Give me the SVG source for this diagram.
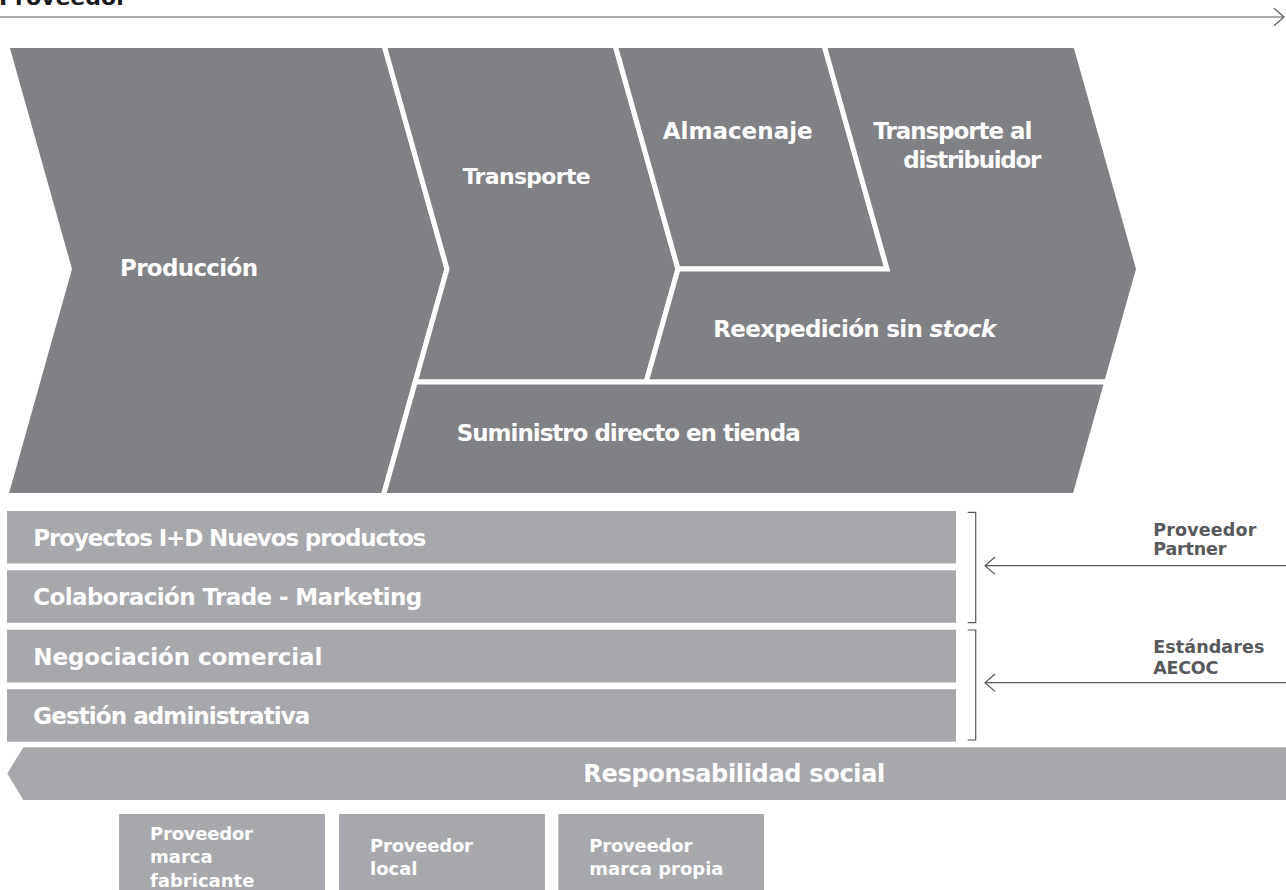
<svg xmlns="http://www.w3.org/2000/svg" width="1286" height="890" viewBox="0 0 1286 890">
<defs>
<style>
.chev{fill:#808185;stroke:#ffffff;stroke-width:5;stroke-linejoin:miter}
.band{fill:#a7a8ab}
.lbl{font-family:"DejaVu Sans","Liberation Sans",sans-serif;font-weight:bold;fill:#ffffff;font-size:23px}
.side{font-family:"DejaVu Sans","Liberation Sans",sans-serif;font-weight:bold;fill:#58595b;font-size:17.5px}
.box{font-family:"DejaVu Sans","Liberation Sans",sans-serif;font-weight:bold;fill:#ffffff;font-size:18px}
.conn{fill:none;stroke:#58595b;stroke-width:1.2}
</style>
<marker id="open" markerUnits="userSpaceOnUse" viewBox="0 0 12 20" refX="11" refY="10" markerWidth="12" markerHeight="20" orient="auto">
<path d="M1,1.3 L11,10 L1,18.7" fill="none" stroke="#58595b" stroke-width="1.2"/>
</marker>
</defs>
<rect width="1286" height="890" fill="#ffffff"/>

<g id="title">
<text x="-1" y="4.5" font-family="DejaVu Sans, Liberation Sans, sans-serif" font-weight="bold" font-size="22" fill="#1a1a1a" textLength="128">Proveedor</text>
</g>

<g id="produccion">
<polygon class="chev" points="6.6,45.5 384.2,45.5 447,269 383.4,495.5 5.8,495.5 69.4,269"/>
<text class="lbl" x="120" y="275.5" textLength="138">Producción</text>
</g>
<g id="transporte">
<polygon class="chev" points="384.2,45.5 615.2,45.5 678,269 646.2,382 415.2,382 447,269"/>
<text class="lbl" x="462.7" y="184" style="font-size:22px" textLength="128">Transporte</text>
</g>
<g id="almacenaje">
<polygon class="chev" points="615.2,45.5 824.2,45.5 887,269 678,269"/>
<text class="lbl" x="662.7" y="139" textLength="150">Almacenaje</text>
</g>
<g id="transporte-distribuidor">
<polygon class="chev" points="678,269 887,269 824.2,45.5 1075.8,45.5 1138.6,269 1106.8,382 646.2,382"/>
<text class="lbl" x="873.3" y="139" textLength="159">Transporte al</text>
<text class="lbl" x="903.3" y="168" textLength="138">distribuidor</text>
</g>
<g id="reexpedicion">
<text class="lbl" x="713.3" y="336.7" textLength="283">Reexpedición sin <tspan font-style="italic">stock</tspan></text>
</g>
<g id="suministro">
<polygon class="chev" points="415.2,382 1106.8,382 1075,495.5 383.4,495.5"/>
<text class="lbl" x="456.7" y="440.7" textLength="344">Suministro directo en tienda</text>
</g>

<g id="proyectos">
<rect class="band" x="7" y="511" width="949" height="52.5"/>
<text class="lbl" x="33.3" y="545.5" textLength="393">Proyectos I+D Nuevos productos</text>
</g>
<g id="colaboracion">
<rect class="band" x="7" y="570.3" width="949" height="52.5"/>
<text class="lbl" x="33.3" y="604.8" textLength="389">Colaboración Trade - Marketing</text>
</g>
<g id="negociacion">
<rect class="band" x="7" y="629.7" width="949" height="52.8"/>
<text class="lbl" x="33.3" y="664.5" textLength="289">Negociación comercial</text>
</g>
<g id="gestion">
<rect class="band" x="7" y="689.2" width="949" height="52.5"/>
<text class="lbl" x="33.3" y="723.8" textLength="277">Gestión administrativa</text>
</g>

<g id="responsabilidad">
<polygon class="band" points="23.3,747.3 1286,747.3 1286,800 23.3,800 7.3,773.6"/>
<text class="lbl" x="583.3" y="782" style="font-size:24px" textLength="302">Responsabilidad social</text>
</g>

<g id="proveedor-partner">
<text class="side" x="1153.3" y="535.7" textLength="103">Proveedor</text>
<text class="side" x="1153.3" y="555" textLength="73">Partner</text>
</g>
<g id="estandares-aecoc">
<text class="side" x="1153.3" y="653.3" textLength="111">Estándares</text>
<text class="side" x="1153.3" y="673.5" textLength="65">AECOC</text>
</g>

<g id="proveedor-fabricante">
<rect class="band" x="119" y="814" width="206" height="80"/>
<text class="box" x="150" y="839.5" textLength="103">Proveedor</text>
<text class="box" x="150" y="863">marca</text>
<text class="box" x="150" y="886.5">fabricante</text>
</g>
<g id="proveedor-local">
<rect class="band" x="339" y="814" width="206" height="80"/>
<text class="box" x="370" y="851.7" textLength="103">Proveedor</text>
<text class="box" x="370" y="875.2">local</text>
</g>
<g id="proveedor-propia">
<rect class="band" x="558.3" y="814" width="205.7" height="80"/>
<text class="box" x="589.3" y="851.7" textLength="103">Proveedor</text>
<text class="box" x="589.3" y="875.2">marca propia</text>
</g>

<g id="connectors">
<line class="conn" x1="0" y1="17" x2="1284" y2="17" marker-end="url(#open)"/>
<path class="conn" d="M967.7,512.3 H975.7 V622.7 H967.7"/>
<path class="conn" d="M967.7,630 H975.7 V740 H967.7"/>
<line class="conn" x1="1286" y1="565.7" x2="985" y2="565.7" marker-end="url(#open)"/>
<line class="conn" x1="1286" y1="682.7" x2="985" y2="682.7" marker-end="url(#open)"/>
</g>
</svg>
